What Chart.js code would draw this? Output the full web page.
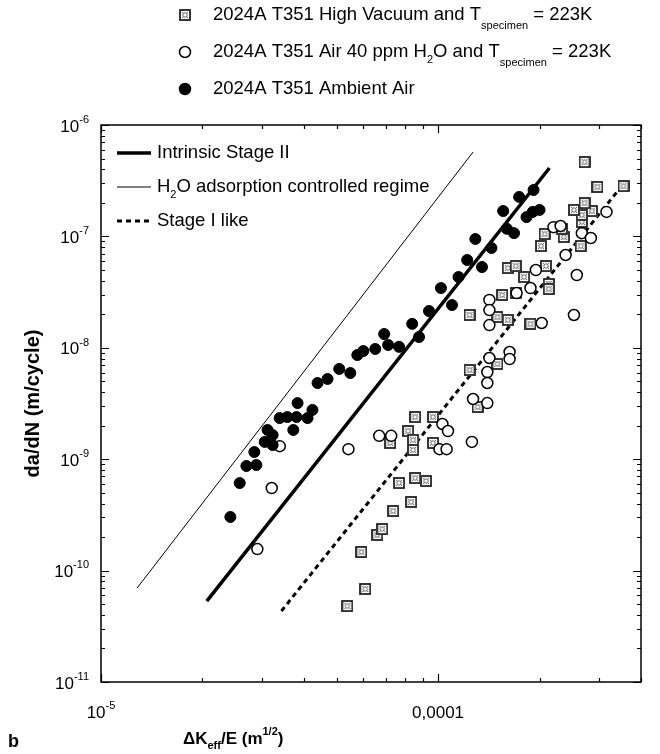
<!DOCTYPE html>
<html>
<head>
<meta charset="utf-8">
<script src="https://cdn.jsdelivr.net/npm/chart.js@4.4.1/dist/chart.umd.min.js"></script>
<style>
  html, body { margin: 0; padding: 0; background: #fff; }
</style>
</head>
<body>
<canvas id="chart" width="660" height="754"></canvas>
<script>
// ΔKeff/E (m^1/2) against da/dN (m/cycle), one pair of arrays per environment
const vacuumK = [5.38e-5, 6.08e-5, 5.92e-5, 6.60e-5, 6.83e-5, 7.36e-5, 8.32e-5, 7.66e-5, 8.55e-5, 9.21e-5,
  7.21e-5, 8.15e-5, 8.43e-5, 8.43e-5, 8.55e-5, 9.66e-5, 9.66e-5, 1.24e-4, 1.50e-4, 1.31e-4,
  1.24e-4, 1.50e-4, 1.61e-4, 1.88e-4, 1.55e-4, 1.70e-4, 1.61e-4, 1.70e-4, 1.80e-4, 2.09e-4,
  2.13e-4, 2.13e-4, 2.02e-4, 2.07e-4, 2.36e-4, 2.33e-4, 2.65e-4, 2.67e-4, 2.67e-4, 2.53e-4,
  2.86e-4, 2.72e-4, 2.97e-4, 3.55e-4, 2.72e-4];
const vacuumRate = [4.81e-11, 6.84e-11, 1.47e-10, 2.09e-10, 2.36e-10, 3.43e-10, 4.13e-10, 6.11e-10, 6.78e-10, 6.37e-10,
  1.40e-9, 1.79e-9, 1.49e-9, 1.21e-9, 2.39e-9, 2.39e-9, 1.40e-9, 6.32e-9, 7.16e-9, 2.94e-9,
  1.97e-8, 1.89e-8, 1.78e-8, 1.64e-8, 2.98e-8, 3.10e-8, 5.20e-8, 5.42e-8, 4.32e-8, 5.42e-8,
  3.74e-8, 3.37e-8, 8.20e-8, 1.05e-7, 9.88e-8, 1.17e-7, 8.20e-8, 1.35e-7, 1.56e-7, 1.73e-7,
  1.69e-7, 1.99e-7, 2.78e-7, 2.83e-7, 4.65e-7];

const airK = [2.91e-5, 3.21e-5, 3.39e-5, 5.42e-5, 6.69e-5, 7.26e-5, 1.03e-4, 1.07e-4, 1.01e-4, 1.06e-4,
  1.26e-4, 1.27e-4, 1.40e-4, 1.40e-4, 1.40e-4, 1.42e-4, 1.63e-4, 1.63e-4, 1.42e-4, 1.42e-4,
  1.42e-4, 1.71e-4, 1.88e-4, 1.95e-4, 2.03e-4, 2.20e-4, 2.31e-4, 2.39e-4, 2.53e-4, 2.58e-4,
  2.67e-4, 2.84e-4, 3.16e-4];
const airRate = [1.56e-10, 5.51e-10, 1.31e-9, 1.23e-9, 1.62e-9, 1.62e-9, 2.07e-9, 1.79e-9, 1.23e-9, 1.23e-9,
  1.43e-9, 3.47e-9, 3.19e-9, 6.06e-9, 4.83e-9, 8.10e-9, 9.17e-9, 7.93e-9, 2.69e-8, 2.18e-8,
  1.60e-8, 3.10e-8, 3.44e-8, 4.99e-8, 1.67e-8, 1.21e-7, 1.24e-7, 6.81e-8, 1.97e-8, 4.50e-8,
  1.07e-7, 9.67e-8, 1.66e-7];

const ambientK = [2.42e-5, 2.58e-5, 2.70e-5, 2.89e-5, 2.85e-5, 3.06e-5, 3.23e-5, 3.12e-5, 3.23e-5, 3.39e-5,
  3.57e-5, 3.72e-5, 3.80e-5, 3.83e-5, 4.10e-5, 4.24e-5, 4.39e-5, 4.70e-5, 5.09e-5, 5.49e-5,
  5.76e-5, 6.00e-5, 6.51e-5, 6.92e-5, 7.11e-5, 7.66e-5, 8.38e-5, 8.78e-5, 9.40e-5, 1.02e-4,
  1.10e-4, 1.15e-4, 1.22e-4, 1.35e-4, 1.29e-4, 1.44e-4, 1.56e-4, 1.60e-4, 1.68e-4, 1.74e-4,
  1.92e-4, 1.83e-4, 1.91e-4, 2.00e-4];
const ambientRate = [3.03e-10, 6.11e-10, 8.69e-10, 8.87e-10, 1.16e-9, 1.43e-9, 1.34e-9, 1.83e-9, 1.65e-9, 2.34e-9,
  2.39e-9, 1.83e-9, 2.39e-9, 3.19e-9, 2.34e-9, 2.77e-9, 4.83e-9, 5.25e-9, 6.46e-9, 5.94e-9,
  8.61e-9, 9.36e-9, 9.76e-9, 1.33e-8, 1.06e-8, 1.02e-8, 1.64e-8, 1.25e-8, 2.14e-8, 3.44e-8,
  2.42e-8, 4.32e-8, 6.14e-8, 5.31e-8, 9.48e-8, 7.87e-8, 1.69e-7, 1.17e-7, 1.07e-7, 2.26e-7,
  2.61e-7, 1.49e-7, 1.66e-7, 1.73e-7];

// regime lines, given by their two end points
const stage2K = [2.06e-5, 2.14e-4];
const stage2Rate = [5.33e-11, 4.11e-7];
const adsorptionK = [1.28e-5, 1.27e-4];
const adsorptionRate = [6.98e-11, 5.72e-7];
const stage1K = [3.43e-5, 3.43e-4];
const stage1Rate = [4.34e-11, 2.61e-7];

// axis ranges and tick labels
const xRange = [1e-5, 4e-4];
const yRange = [1e-11, 1e-6];
const yTickExponents = [-11, -10, -9, -8, -7, -6];
const xTickLabels = [
  { value: 1e-5, parts: ['10', { text: '-5', shift: 'sup' }] },
  { value: 1e-4, parts: ['0,0001'] }
];

const FONT = '"Liberation Sans", Arial, sans-serif';
const FS = 17;      // tick labels and axis titles
const LEG_FS = 18.5; // both legends

const pairs = (xs, ys) => xs.map((x, i) => ({ x: x, y: ys[i] }));

// square marker with a crossed circle inside
function makeSquareMarker(size) {
  const c = document.createElement('canvas');
  c.width = size; c.height = size;
  const g = c.getContext('2d');
  g.fillStyle = '#fff';
  g.fillRect(0, 0, size, size);
  g.strokeStyle = '#222';
  g.lineWidth = 1.8;
  g.strokeRect(1, 1, size - 2, size - 2);
  g.strokeStyle = '#555';
  g.lineWidth = 0.9;
  g.beginPath();
  g.moveTo(3, 3); g.lineTo(size - 3, size - 3);
  g.moveTo(size - 3, 3); g.lineTo(3, size - 3);
  g.stroke();
  g.beginPath();
  g.arc(size / 2, size / 2, 2.2, 0, Math.PI * 2);
  g.fillStyle = '#fff';
  g.fill();
  g.stroke();
  return c;
}
const squareMarker = makeSquareMarker(12);

// text with sub/superscript pieces; returns width
function drawRich(ctx, parts, x, y, size, weight, measureOnly) {
  let cx = x;
  parts.forEach(p => {
    const seg = typeof p === 'string' ? { text: p } : p;
    const s = seg.shift ? Math.round(size * 0.62) : size;
    ctx.font = (weight || 'normal') + ' ' + s + 'px ' + FONT;
    let dy = 0;
    if (seg.shift === 'sub') dy = size * (seg.drop || 0.42);
    if (seg.shift === 'sup') dy = -size * 0.42;
    if (!measureOnly) ctx.fillText(seg.text, cx, y + dy);
    cx += ctx.measureText(seg.text).width;
  });
  return cx - x;
}

const decorPlugin = {
  id: 'decor',
  afterDraw(chart) {
    const ctx = chart.ctx;
    const a = chart.chartArea;
    const xs = chart.scales.x, ys = chart.scales.y;
    ctx.save();
    ctx.strokeStyle = '#000';
    ctx.fillStyle = '#000';

    // frame
    ctx.lineWidth = 1.5;
    ctx.strokeRect(a.left, a.top, a.right - a.left, a.bottom - a.top);

    // y ticks on both sides, pointing inwards
    ctx.lineWidth = 1.2;
    yTickExponents.forEach(e => {
      for (let m = 1; m <= 9; m++) {
        const v = m * Math.pow(10, e);
        if (v > yRange[1] * 1.0001) break;
        const py = Math.round(ys.getPixelForValue(v)) + 0.5;
        const len = m === 1 ? 8 : 4;
        ctx.beginPath();
        ctx.moveTo(a.left, py); ctx.lineTo(a.left + len, py);
        ctx.moveTo(a.right, py); ctx.lineTo(a.right - len, py);
        ctx.stroke();
      }
    });
    // x ticks on bottom and top
    [-5, -4].forEach(e => {
      for (let m = 1; m <= 9; m++) {
        const v = m * Math.pow(10, e);
        if (v > xRange[1] * 1.0001) break;
        const px = Math.round(xs.getPixelForValue(v)) + 0.5;
        const len = m === 1 ? 8 : 4;
        ctx.beginPath();
        ctx.moveTo(px, a.bottom); ctx.lineTo(px, a.bottom - len);
        ctx.moveTo(px, a.top); ctx.lineTo(px, a.top + len);
        ctx.stroke();
      }
    });

    // tick labels
    ctx.textBaseline = 'middle';
    ctx.textAlign = 'left';
    yTickExponents.forEach(e => {
      const parts = ['10', { text: String(e), shift: 'sup' }];
      const w = drawRich(ctx, parts, 0, 0, FS, 'normal', true);
      const py = ys.getPixelForValue(Math.pow(10, e));
      drawRich(ctx, parts, a.left - 12 - w, py + 2, FS, 'normal');
    });
    xTickLabels.forEach(t => {
      const w = drawRich(ctx, t.parts, 0, 0, FS, 'normal', true);
      const px = xs.getPixelForValue(t.value);
      drawRich(ctx, t.parts, px - w / 2, a.bottom + 31, FS, 'normal');
    });

    // axis titles
    drawRich(ctx, ['ΔK', { text: 'eff', shift: 'sub' }, '/E (m', { text: '1/2', shift: 'sup' }, ')'],
      183, a.bottom + 57, FS, 'bold');
    ctx.save();
    ctx.translate(33, (a.top + a.bottom) / 2);
    ctx.rotate(-Math.PI / 2);
    ctx.textAlign = 'center';
    ctx.font = 'bold 20px ' + FONT;
    ctx.fillText('da/dN (m/cycle)', 0, 0);
    ctx.restore();
    ctx.font = 'bold 18px ' + FONT;
    ctx.fillText('b', 8, 742);

    // symbol legend above the plot
    const spec = { text: 'specimen', shift: 'sub', drop: 0.6 };
    const rows = [
      { marker: 'square', parts: ['2024A T351 High Vacuum and T', spec, ' = 223K'] },
      { marker: 'open', parts: ['2024A T351 Air 40 ppm H', { text: '2', shift: 'sub' }, 'O and T', spec, ' = 223K'] },
      { marker: 'filled', parts: ['2024A T351 Ambient Air'] }
    ];
    rows.forEach((r, i) => {
      const y = 15 + i * 37;
      const mx = 185;
      if (r.marker === 'square') {
        ctx.drawImage(squareMarker, mx - 6, y - 6);
      } else {
        ctx.beginPath();
        ctx.arc(mx, y, 5.5, 0, Math.PI * 2);
        ctx.fillStyle = r.marker === 'filled' ? '#000' : '#fff';
        ctx.fill();
        ctx.lineWidth = 1.5;
        ctx.stroke();
        ctx.fillStyle = '#000';
      }
      drawRich(ctx, r.parts, 213, y, LEG_FS, 'normal');
    });

    // line legend inside the plot
    const lines = [
      { width: 3.5, dash: [], parts: ['Intrinsic Stage II'] },
      { width: 1, dash: [], parts: ['H', { text: '2', shift: 'sub' }, 'O adsorption controlled regime'] },
      { width: 3, dash: [5, 4], parts: ['Stage I like'] }
    ];
    lines.forEach((l, i) => {
      const y = a.top + 28 + i * 34;
      ctx.beginPath();
      ctx.setLineDash(l.dash);
      ctx.lineWidth = l.width;
      ctx.moveTo(a.left + 16, y);
      ctx.lineTo(a.left + 50, y);
      ctx.stroke();
      ctx.setLineDash([]);
      drawRich(ctx, l.parts, a.left + 56, y, LEG_FS, 'normal');
    });
    ctx.restore();
  }
};

new Chart(document.getElementById('chart'), {
  type: 'scatter',
  data: {
    datasets: [
      {
        label: 'Intrinsic Stage II',
        data: pairs(stage2K, stage2Rate),
        showLine: true,
        borderColor: '#000',
        borderWidth: 3.5,
        pointRadius: 0,
        order: 4
      },
      {
        label: 'H2O adsorption controlled regime',
        data: pairs(adsorptionK, adsorptionRate),
        showLine: true,
        borderColor: '#000',
        borderWidth: 1,
        pointRadius: 0,
        order: 5
      },
      {
        label: 'Stage I like',
        data: pairs(stage1K, stage1Rate),
        showLine: true,
        borderColor: '#000',
        borderWidth: 3,
        borderDash: [5, 4],
        pointRadius: 0,
        order: 6
      },
      {
        label: '2024A T351 High Vacuum',
        data: pairs(vacuumK, vacuumRate),
        pointStyle: squareMarker,
        pointRadius: 6,
        order: 3
      },
      {
        label: '2024A T351 Air 40 ppm H2O',
        data: pairs(airK, airRate),
        pointStyle: 'circle',
        pointRadius: 5.5,
        borderWidth: 1.5,
        borderColor: '#000',
        backgroundColor: '#fff',
        order: 2
      },
      {
        label: '2024A T351 Ambient Air',
        data: pairs(ambientK, ambientRate),
        pointStyle: 'circle',
        pointRadius: 5.5,
        borderWidth: 1,
        borderColor: '#000',
        backgroundColor: '#000',
        order: 1
      }
    ]
  },
  options: {
    responsive: false,
    animation: false,
    layout: { padding: { left: 101, right: 19, top: 125, bottom: 72 } },
    scales: {
      x: { type: 'logarithmic', min: xRange[0], max: xRange[1], display: false },
      y: { type: 'logarithmic', min: yRange[0], max: yRange[1], display: false }
    },
    plugins: {
      legend: { display: false },
      tooltip: { enabled: false }
    }
  },
  plugins: [decorPlugin]
});
</script>
</body>
</html>
